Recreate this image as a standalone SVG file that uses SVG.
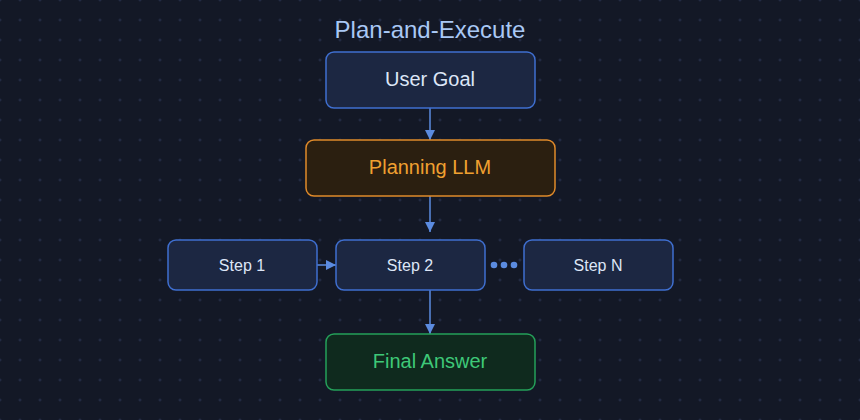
<svg xmlns="http://www.w3.org/2000/svg" width="860" height="420" viewBox="0 0 860 420">
<style>
text{font-family:"Liberation Sans",Arial,sans-serif;text-anchor:middle;dominant-baseline:central}
.b{fill:#1c2742;stroke:#3f6fd0;stroke-width:1.5}
.t{fill:#dde6f7;font-size:20px}
.s{fill:#dde6f7;font-size:16px}
.c{stroke:#5b8be0;stroke-width:1.5;fill:none}
</style>
<defs>
<pattern id="g" width="20" height="20" patternUnits="userSpaceOnUse">
<path d="M20 -1.5V1.5M18.5 0H21.5M0 18.5V21.5M-1.5 20H1.5M20 18.5V21.5M18.5 20H21.5M0 -1.5V1.5M-1.5 0H1.5" stroke="#26304a" stroke-width="1"/>
</pattern>
<marker id="a" viewBox="0 0 10 10" refX="10" refY="5" markerWidth="10" markerHeight="10" markerUnits="userSpaceOnUse" orient="auto"><path d="M0 0L10 5L0 10Z" fill="#5b8be0"/></marker>
</defs>
<rect width="860" height="420" fill="#131826"/>
<rect width="860" height="420" fill="url(#g)"/>
<text x="430" y="29" fill="#a9c8f5" font-size="24">Plan-and-Execute</text>
<g id="connectors">
<path class="c" d="M430 108V140" marker-end="url(#a)"/>
<path class="c" d="M430 196V232" marker-end="url(#a)"/>
<path class="c" d="M317 265H336" marker-end="url(#a)"/>
<path class="c" d="M430 290V334" marker-end="url(#a)"/>
<g fill="#5b8be0"><circle cx="494" cy="265" r="3.3"/><circle cx="504" cy="265" r="3.3"/><circle cx="514" cy="265" r="3.3"/></g>
</g>
<g id="goal"><rect class="b" x="326" y="52" width="209" height="56" rx="8"/><text class="t" x="430" y="79">User Goal</text></g>
<g id="plan"><rect x="306" y="140" width="249" height="56" rx="8" fill="#2b1f10" stroke="#e08a2a" stroke-width="1.5"/><text x="430" y="167" fill="#f0a030" font-size="20">Planning LLM</text></g>
<g id="step1"><rect class="b" x="168" y="240" width="149" height="50" rx="8"/><text class="s" x="242" y="265">Step 1</text></g>
<g id="step2"><rect class="b" x="336" y="240" width="149" height="50" rx="8"/><text class="s" x="410" y="265">Step 2</text></g>
<g id="stepn"><rect class="b" x="524" y="240" width="149" height="50" rx="8"/><text class="s" x="598" y="265">Step N</text></g>
<g id="final"><rect x="326" y="334" width="209" height="56" rx="8" fill="#0f2a1e" stroke="#25a05a" stroke-width="1.5"/><text x="430" y="361" fill="#3ec878" font-size="20">Final Answer</text></g>
</svg>
